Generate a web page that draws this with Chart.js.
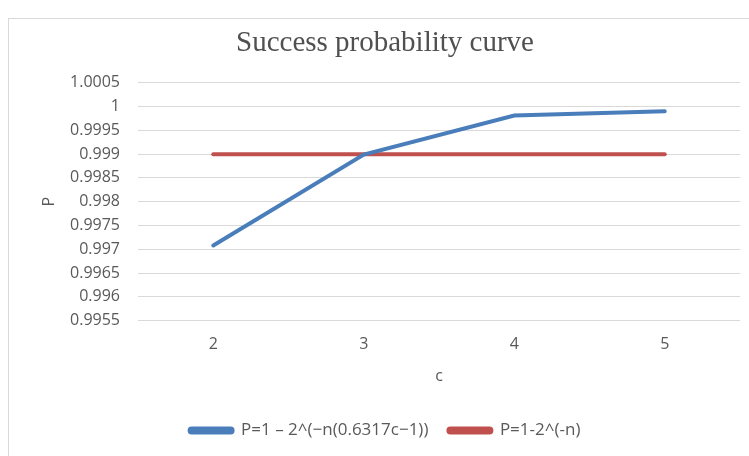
<!DOCTYPE html>
<html>
<head>
<meta charset="utf-8">
<script src="https://cdn.jsdelivr.net/npm/chart.js@4.4.1/dist/chart.umd.min.js"></script>
<style>
  body { margin: 0; background: #fff; }
  #wrap { position: relative; width: 749px; height: 456px; overflow: hidden; }
  #frame { position: absolute; left: 8px; top: 18px; width: 760px; height: 460px; border: 1px solid #d9d9d9; }
  #chart { position: absolute; left: 0; top: 0; }
</style>
</head>
<body>
<div id="wrap">
  <div id="frame"></div>
  <canvas id="chart" width="749" height="456"></canvas>
</div>
<script>
// chart data
const cValues = ['2', '3', '4', '5'];
const pCurve = [0.99708, 0.99899, 0.99981, 0.99990];
const pBase = [0.999, 0.999, 0.999, 0.999];
const yMin = 0.9955;
const yMax = 1.0005;
const yStep = 0.0005;

const blue = '#4a7ebb';
const red = '#c0504d';
const textGray = '#595959';

const ctx = document.getElementById('chart').getContext('2d');
const chart = new Chart(ctx, {
  type: 'line',
  data: {
    labels: cValues,
    datasets: [
      {
        label: 'P=1 \u2013 2^(\u2212n(0.6317c\u22121))',
        data: pCurve,
        borderColor: blue,
        backgroundColor: blue,
        borderWidth: 4,
        pointRadius: 0,
        tension: 0,
        borderCapStyle: 'round'
      },
      {
        label: 'P=1-2^(-n)',
        data: pBase,
        borderColor: red,
        backgroundColor: red,
        borderWidth: 4,
        pointRadius: 0,
        tension: 0,
        borderCapStyle: 'round'
      }
    ]
  },
  options: {
    responsive: false,
    animation: false,
    layout: { padding: { left: 30, right: 9, top: 26, bottom: 7 } },
    plugins: {
      title: {
        display: true,
        text: 'Success probability curve',
        color: '#505050',
        font: { family: 'Liberation Serif', size: 29, weight: 'normal' },
        padding: { top: 0, bottom: 22 }
      },
      legend: {
        position: 'bottom',
        labels: {
          color: textGray,
          font: { family: 'Open Sans', size: 17 },
          boxWidth: 43,
          boxHeight: 4,
          padding: 20,
          useBorderRadius: true,
          borderRadius: 2
        }
      },
      tooltip: { enabled: false }
    },
    scales: {
      x: {
        offset: true,
        grid: { display: false },
        border: { display: false },
        ticks: { color: textGray, font: { family: 'Open Sans', size: 16 }, padding: 6 },
        title: { display: true, text: 'c', color: textGray, font: { family: 'Open Sans', size: 16 }, padding: { top: 7, bottom: 16 } }
      },
      y: {
        min: yMin,
        max: yMax,
        grid: { color: '#d9d9d9', lineWidth: 1, drawTicks: false },
        border: { display: false },
        ticks: {
          stepSize: yStep,
          color: textGray,
          font: { family: 'Open Sans', size: 16 },
          padding: 18,
          callback: v => String(Number(v.toFixed(4)))
        },
        title: { display: true, text: 'P', color: textGray, font: { family: 'Open Sans', size: 16 }, padding: { top: 10, bottom: 0 } },
        afterFit: s => { s.width = 108; }
      }
    }
  }
});
</script>
</body>
</html>
